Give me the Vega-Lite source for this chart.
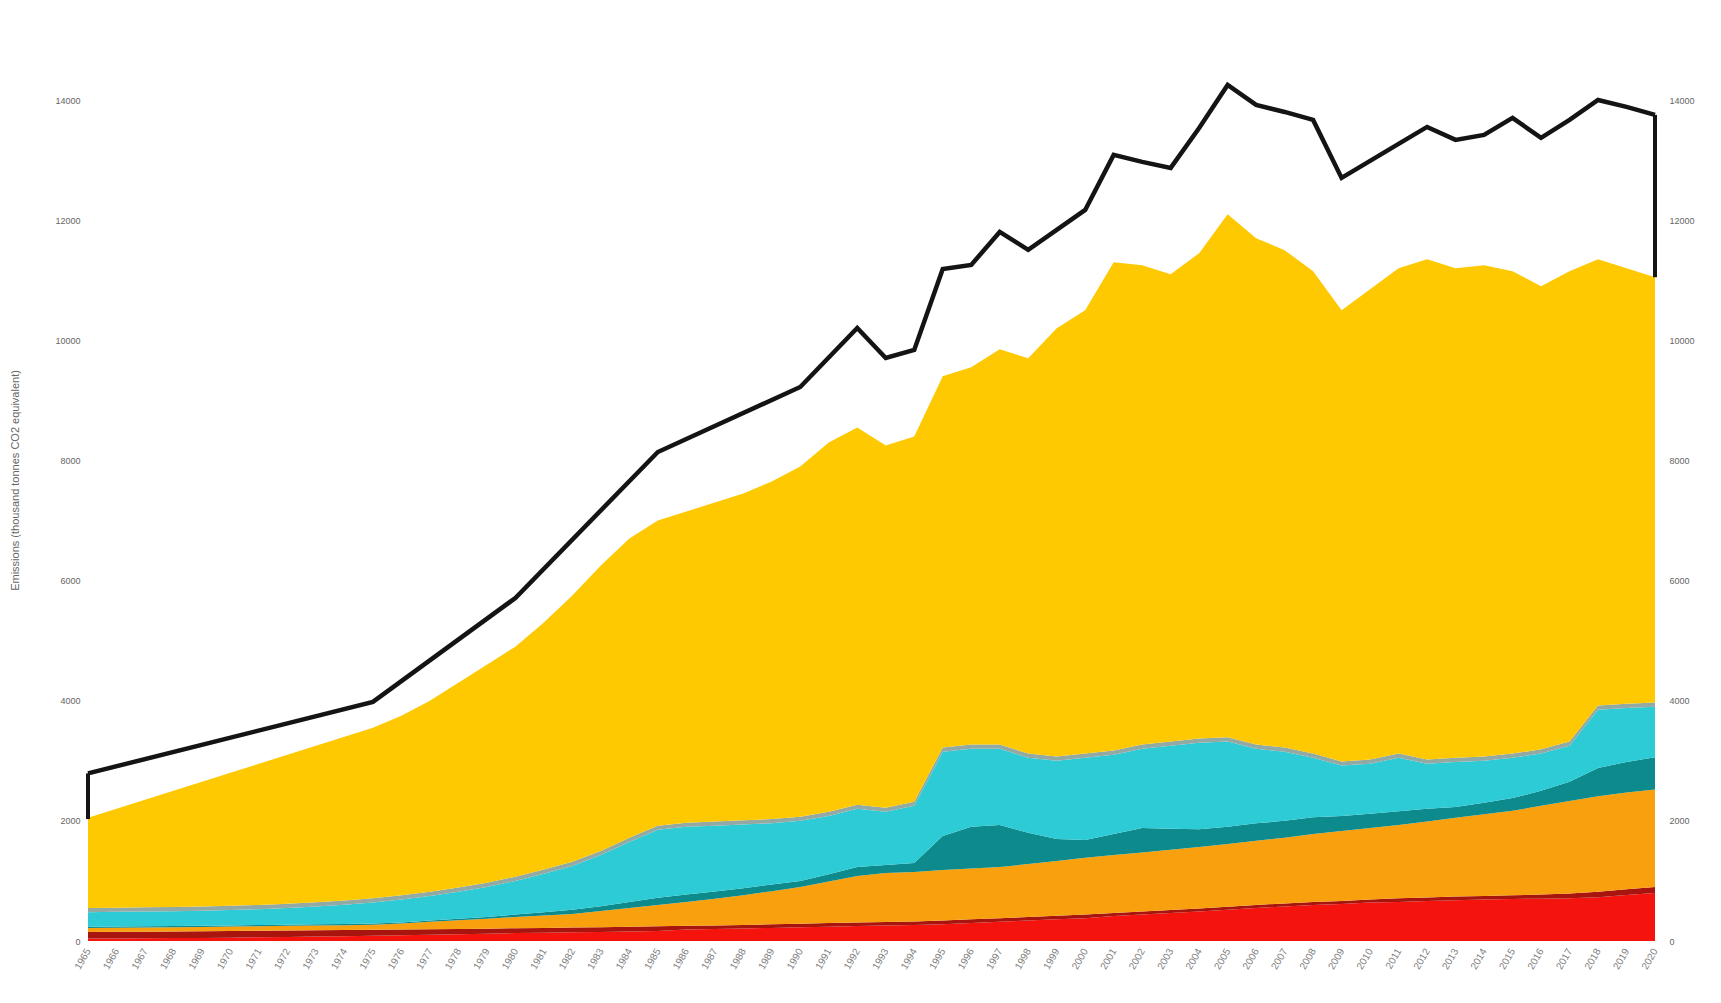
{
  "$schema": "https://vega.github.io/schema/vega-lite/v6.json",
  "width": 1567,
  "height": 841,
  "autosize": "none",
  "padding": {"left": 88, "top": 100, "right": 66, "bottom": 62},
  "background": "white",
  "config": {
    "view": {"stroke": null},
    "font": "Liberation Sans",
    "axis": {"grid": false, "ticks": false, "domain": false, "labelColor": "#666666", "titleColor": "#666666", "labelFont": "Liberation Sans", "titleFont": "Liberation Sans"},
    "axisX": {"labelOverlap": false, "labelFlush": false, "labelBound": false}
  },
  "datasets": {
    "seriesOrder": [
      {"series": "red", "ord": 1},
      {"series": "darkred", "ord": 2},
      {"series": "orange", "ord": 3},
      {"series": "teal", "ord": 4},
      {"series": "cyan", "ord": 5},
      {"series": "grey", "ord": 6},
      {"series": "yellow", "ord": 7}
    ],
    "bands": [
      {"year": 1965, "red": 40, "darkred": 110, "orange": 66, "teal": 20, "cyan": 244, "grey": 70, "yellow": 1500},
      {"year": 1966, "red": 42, "darkred": 110, "orange": 68, "teal": 20, "cyan": 245, "grey": 70, "yellow": 1645},
      {"year": 1967, "red": 45, "darkred": 110, "orange": 69, "teal": 20, "cyan": 246, "grey": 70, "yellow": 1790},
      {"year": 1968, "red": 48, "darkred": 110, "orange": 70, "teal": 20, "cyan": 249, "grey": 70, "yellow": 1933},
      {"year": 1969, "red": 52, "darkred": 110, "orange": 72, "teal": 20, "cyan": 251, "grey": 70, "yellow": 2075},
      {"year": 1970, "red": 56, "darkred": 110, "orange": 74, "teal": 20, "cyan": 256, "grey": 70, "yellow": 2214},
      {"year": 1971, "red": 62, "darkred": 108, "orange": 76, "teal": 20, "cyan": 264, "grey": 70, "yellow": 2350},
      {"year": 1972, "red": 68, "darkred": 106, "orange": 78, "teal": 20, "cyan": 278, "grey": 70, "yellow": 2480},
      {"year": 1973, "red": 74, "darkred": 104, "orange": 80, "teal": 20, "cyan": 297, "grey": 70, "yellow": 2605},
      {"year": 1974, "red": 80, "darkred": 102, "orange": 82, "teal": 20, "cyan": 321, "grey": 70, "yellow": 2725},
      {"year": 1975, "red": 86, "darkred": 100, "orange": 84, "teal": 20, "cyan": 350, "grey": 70, "yellow": 2840},
      {"year": 1976, "red": 94, "darkred": 96, "orange": 100, "teal": 20, "cyan": 380, "grey": 70, "yellow": 2990},
      {"year": 1977, "red": 103, "darkred": 92, "orange": 125, "teal": 20, "cyan": 410, "grey": 70, "yellow": 3180},
      {"year": 1978, "red": 112, "darkred": 88, "orange": 145, "teal": 25, "cyan": 450, "grey": 70, "yellow": 3410},
      {"year": 1979, "red": 122, "darkred": 84, "orange": 166, "teal": 28, "cyan": 500, "grey": 70, "yellow": 3630},
      {"year": 1980, "red": 132, "darkred": 80, "orange": 188, "teal": 40, "cyan": 560, "grey": 70, "yellow": 3830},
      {"year": 1981, "red": 138, "darkred": 80, "orange": 207, "teal": 55, "cyan": 640, "grey": 70, "yellow": 4110},
      {"year": 1982, "red": 144, "darkred": 80, "orange": 226, "teal": 70, "cyan": 730, "grey": 70, "yellow": 4430},
      {"year": 1983, "red": 150, "darkred": 80, "orange": 270, "teal": 80, "cyan": 850, "grey": 70, "yellow": 4750},
      {"year": 1984, "red": 158, "darkred": 80, "orange": 312, "teal": 100, "cyan": 1000, "grey": 70, "yellow": 4980},
      {"year": 1985, "red": 165, "darkred": 80, "orange": 355, "teal": 120, "cyan": 1130, "grey": 70, "yellow": 5080},
      {"year": 1986, "red": 192, "darkred": 60, "orange": 398, "teal": 125, "cyan": 1125, "grey": 70, "yellow": 5180},
      {"year": 1987, "red": 200, "darkred": 60, "orange": 445, "teal": 120, "cyan": 1095, "grey": 70, "yellow": 5310},
      {"year": 1988, "red": 208, "darkred": 60, "orange": 492, "teal": 120, "cyan": 1060, "grey": 70, "yellow": 5440},
      {"year": 1989, "red": 218, "darkred": 60, "orange": 552, "teal": 110, "cyan": 1020, "grey": 70, "yellow": 5620},
      {"year": 1990, "red": 228, "darkred": 60, "orange": 612, "teal": 100, "cyan": 1000, "grey": 70, "yellow": 5830},
      {"year": 1991, "red": 238, "darkred": 60, "orange": 692, "teal": 120, "cyan": 970, "grey": 70, "yellow": 6150},
      {"year": 1992, "red": 248, "darkred": 60, "orange": 772, "teal": 150, "cyan": 970, "grey": 70, "yellow": 6280},
      {"year": 1993, "red": 256, "darkred": 60, "orange": 814, "teal": 135, "cyan": 885, "grey": 70, "yellow": 6030},
      {"year": 1994, "red": 265, "darkred": 60, "orange": 825, "teal": 150, "cyan": 950, "grey": 70, "yellow": 6080},
      {"year": 1995, "red": 280, "darkred": 60, "orange": 840, "teal": 570, "cyan": 1400, "grey": 70, "yellow": 6180},
      {"year": 1996, "red": 300, "darkred": 60, "orange": 845, "teal": 695, "cyan": 1300, "grey": 70, "yellow": 6280},
      {"year": 1997, "red": 320, "darkred": 60, "orange": 852, "teal": 698, "cyan": 1270, "grey": 70, "yellow": 6580},
      {"year": 1998, "red": 340, "darkred": 60, "orange": 880, "teal": 520, "cyan": 1250, "grey": 70, "yellow": 6580},
      {"year": 1999, "red": 360, "darkred": 60, "orange": 910, "teal": 370, "cyan": 1300, "grey": 70, "yellow": 7130},
      {"year": 2000, "red": 380, "darkred": 60, "orange": 945, "teal": 295, "cyan": 1370, "grey": 70, "yellow": 7380},
      {"year": 2001, "red": 416, "darkred": 50, "orange": 966, "teal": 348, "cyan": 1320, "grey": 70, "yellow": 8130},
      {"year": 2002, "red": 440, "darkred": 50, "orange": 985, "teal": 405, "cyan": 1320, "grey": 70, "yellow": 7980},
      {"year": 2003, "red": 465, "darkred": 50, "orange": 1005, "teal": 350, "cyan": 1380, "grey": 70, "yellow": 7780},
      {"year": 2004, "red": 490, "darkred": 50, "orange": 1025, "teal": 295, "cyan": 1440, "grey": 70, "yellow": 8080},
      {"year": 2005, "red": 520, "darkred": 50, "orange": 1045, "teal": 285, "cyan": 1420, "grey": 70, "yellow": 8710},
      {"year": 2006, "red": 550, "darkred": 50, "orange": 1070, "teal": 290, "cyan": 1240, "grey": 70, "yellow": 8430},
      {"year": 2007, "red": 575, "darkred": 50, "orange": 1095, "teal": 280, "cyan": 1150, "grey": 70, "yellow": 8280},
      {"year": 2008, "red": 600, "darkred": 50, "orange": 1130, "teal": 280, "cyan": 990, "grey": 70, "yellow": 8030},
      {"year": 2009, "red": 615, "darkred": 50, "orange": 1165, "teal": 250, "cyan": 840, "grey": 70, "yellow": 7510},
      {"year": 2010, "red": 640, "darkred": 50, "orange": 1190, "teal": 240, "cyan": 830, "grey": 70, "yellow": 7830},
      {"year": 2011, "red": 650, "darkred": 60, "orange": 1220, "teal": 230, "cyan": 890, "grey": 70, "yellow": 8080},
      {"year": 2012, "red": 665, "darkred": 60, "orange": 1265, "teal": 210, "cyan": 750, "grey": 70, "yellow": 8330},
      {"year": 2013, "red": 680, "darkred": 60, "orange": 1310, "teal": 180, "cyan": 750, "grey": 70, "yellow": 8150},
      {"year": 2014, "red": 690, "darkred": 60, "orange": 1360, "teal": 190, "cyan": 700, "grey": 70, "yellow": 8180},
      {"year": 2015, "red": 700, "darkred": 60, "orange": 1410, "teal": 210, "cyan": 670, "grey": 70, "yellow": 8030},
      {"year": 2016, "red": 705, "darkred": 70, "orange": 1475, "teal": 250, "cyan": 620, "grey": 70, "yellow": 7710},
      {"year": 2017, "red": 710, "darkred": 80, "orange": 1540, "teal": 320, "cyan": 600, "grey": 70, "yellow": 7830},
      {"year": 2018, "red": 730, "darkred": 90, "orange": 1590, "teal": 470, "cyan": 970, "grey": 70, "yellow": 7430},
      {"year": 2019, "red": 765, "darkred": 95, "orange": 1610, "teal": 510, "cyan": 900, "grey": 70, "yellow": 7250},
      {"year": 2020, "red": 800, "darkred": 100, "orange": 1620, "teal": 540, "cyan": 840, "grey": 70, "yellow": 7080}
    ],
    "total": [
      {"year": 1965, "total": 2790},
      {"year": 1975, "total": 3980},
      {"year": 1980, "total": 5710},
      {"year": 1985, "total": 8140},
      {"year": 1990, "total": 9223},
      {"year": 1992, "total": 10205},
      {"year": 1993, "total": 9706},
      {"year": 1994, "total": 9839},
      {"year": 1995, "total": 11188},
      {"year": 1996, "total": 11254},
      {"year": 1997, "total": 11804},
      {"year": 1998, "total": 11505},
      {"year": 1999, "total": 11837},
      {"year": 2000, "total": 12170},
      {"year": 2001, "total": 13086},
      {"year": 2002, "total": 12970},
      {"year": 2003, "total": 12870},
      {"year": 2004, "total": 13535},
      {"year": 2005, "total": 14251},
      {"year": 2006, "total": 13918},
      {"year": 2007, "total": 13801},
      {"year": 2008, "total": 13668},
      {"year": 2009, "total": 12703},
      {"year": 2010, "total": 12986},
      {"year": 2011, "total": 13270},
      {"year": 2012, "total": 13552},
      {"year": 2013, "total": 13336},
      {"year": 2014, "total": 13418},
      {"year": 2015, "total": 13702},
      {"year": 2016, "total": 13369},
      {"year": 2017, "total": 13668},
      {"year": 2018, "total": 14001},
      {"year": 2019, "total": 13885},
      {"year": 2020, "total": 13752}
    ],
    "edges": [
      {"year": 1965, "lo": 2030, "hi": 2790},
      {"year": 2020, "lo": 11050, "hi": 13752}
    ]
  },
  "resolve": {"axis": {"y": "independent"}},
  "layer": [
    {
      "data": {"name": "bands"},
      "transform": [
        {"fold": ["red", "darkred", "orange", "teal", "cyan", "grey", "yellow"], "as": ["series", "value"]},
        {"lookup": "series", "from": {"data": {"name": "seriesOrder"}, "key": "series", "fields": ["ord"]}}
      ],
      "mark": {"type": "area", "interpolate": "linear"},
      "encoding": {
        "x": {
          "field": "year", "type": "quantitative",
          "scale": {"domain": [1965, 2020], "nice": false, "zero": false},
          "axis": {
            "title": null, "format": "d", "labelAngle": -60, "labelFontSize": 10, "labelPadding": 8,
            "labelColor": "#808080", "labelOverlap": false, "labelFlush": false,
            "values": [1965,1966,1967,1968,1969,1970,1971,1972,1973,1974,1975,1976,1977,1978,1979,1980,1981,1982,1983,1984,1985,1986,1987,1988,1989,1990,1991,1992,1993,1994,1995,1996,1997,1998,1999,2000,2001,2002,2003,2004,2005,2006,2007,2008,2009,2010,2011,2012,2013,2014,2015,2016,2017,2018,2019,2020]
          }
        },
        "y": {
          "field": "value", "type": "quantitative", "stack": "zero",
          "scale": {"domain": [0, 14000], "nice": false},
          "axis": {
            "values": [0, 2000, 4000, 6000, 8000, 10000, 12000, 14000], "format": "d",
            "labelFontSize": 9, "labelPadding": 8,
            "title": "Emissions (thousand tonnes CO2 equivalent)", "titleFontSize": 11, "titleFontWeight": "normal",
            "titleX": -68, "titleY": 380
          }
        },
        "color": {
          "field": "series", "type": "nominal", "legend": null,
          "scale": {
            "domain": ["red", "darkred", "orange", "teal", "cyan", "grey", "yellow"],
            "range": ["#f5130e", "#a8140e", "#f9a00e", "#0c8a8c", "#2ccbd6", "#93a9a4", "#fec900"]
          }
        },
        "order": {"field": "ord", "type": "quantitative", "sort": "ascending"}
      }
    },
    {
      "data": {"name": "total"},
      "mark": {"type": "line", "color": "#141414", "strokeWidth": 4.5, "strokeJoin": "miter"},
      "encoding": {
        "x": {
          "field": "year", "type": "quantitative",
          "scale": {"domain": [1965, 2020], "nice": false, "zero": false},
          "axis": {
            "title": null, "format": "d", "labelAngle": -60, "labelFontSize": 10, "labelPadding": 8,
            "labelColor": "#808080", "labelOverlap": false, "labelFlush": false,
            "values": [1965,1966,1967,1968,1969,1970,1971,1972,1973,1974,1975,1976,1977,1978,1979,1980,1981,1982,1983,1984,1985,1986,1987,1988,1989,1990,1991,1992,1993,1994,1995,1996,1997,1998,1999,2000,2001,2002,2003,2004,2005,2006,2007,2008,2009,2010,2011,2012,2013,2014,2015,2016,2017,2018,2019,2020]
          }
        },
        "y": {
          "field": "total", "type": "quantitative",
          "scale": {"domain": [0, 14000], "nice": false},
          "axis": {"orient": "right", "values": [0, 2000, 4000, 6000, 8000, 10000, 12000, 14000], "format": "d", "labelFontSize": 9, "labelPadding": 14, "title": null}
        }
      }
    },
    {
      "data": {"name": "edges"},
      "mark": {"type": "rule", "color": "#141414", "strokeWidth": 4},
      "encoding": {
        "x": {
          "field": "year", "type": "quantitative",
          "scale": {"domain": [1965, 2020], "nice": false, "zero": false},
          "axis": {
            "title": null, "format": "d", "labelAngle": -60, "labelFontSize": 10, "labelPadding": 8,
            "labelColor": "#808080", "labelOverlap": false, "labelFlush": false,
            "values": [1965,1966,1967,1968,1969,1970,1971,1972,1973,1974,1975,1976,1977,1978,1979,1980,1981,1982,1983,1984,1985,1986,1987,1988,1989,1990,1991,1992,1993,1994,1995,1996,1997,1998,1999,2000,2001,2002,2003,2004,2005,2006,2007,2008,2009,2010,2011,2012,2013,2014,2015,2016,2017,2018,2019,2020]
          }
        },
        "y": {"field": "lo", "type": "quantitative", "axis": null},
        "y2": {"field": "hi"}
      }
    }
  ]
}
